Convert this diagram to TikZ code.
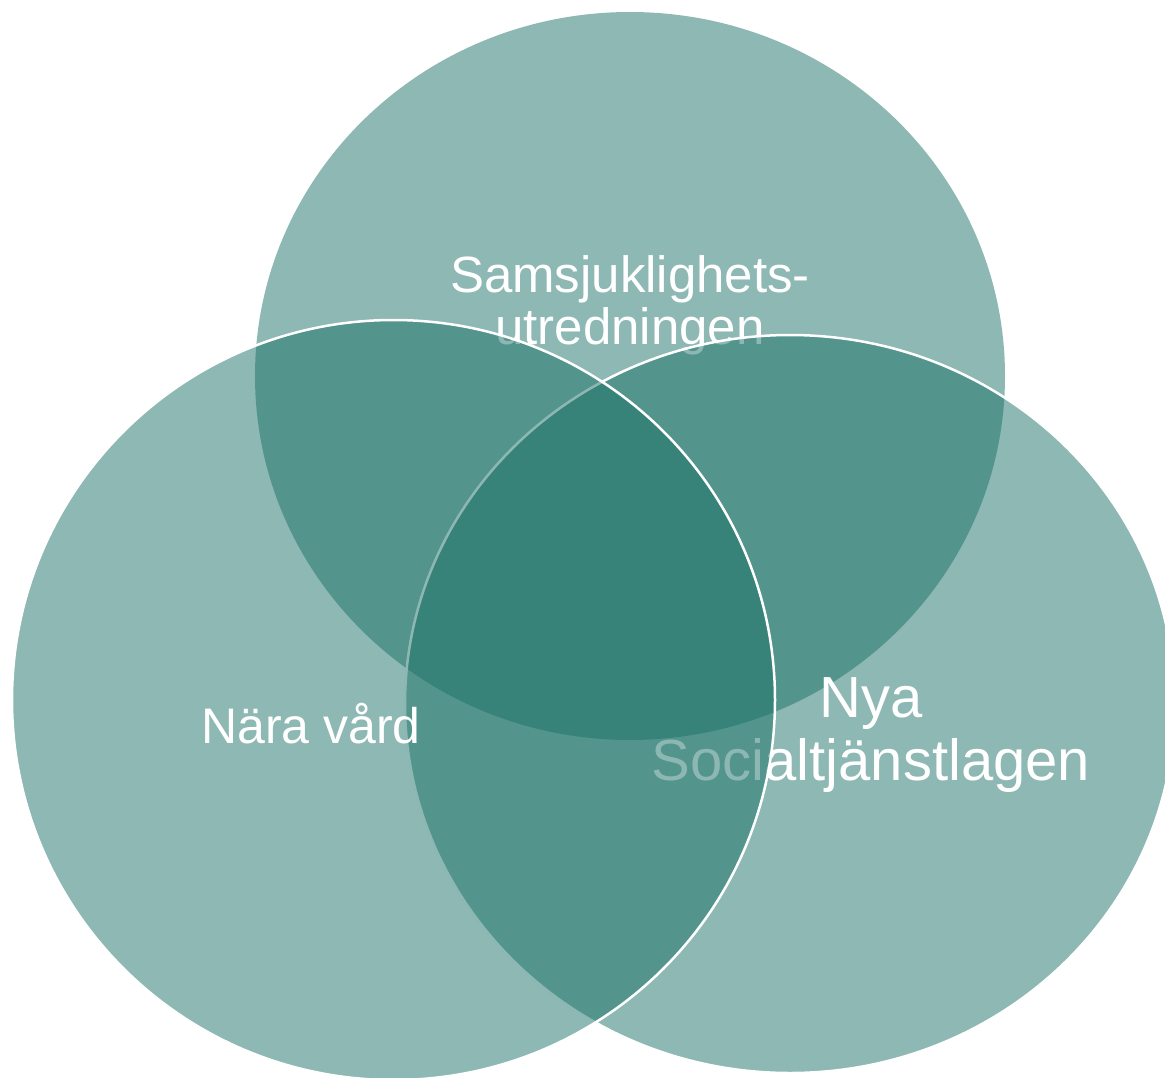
\documentclass[tikz,border=0pt]{standalone}
\usepackage{fontspec}
\setmainfont{Liberation Sans}
\usepackage{xcolor}
\usepackage{tikz}
\definecolor{venngreen}{RGB}{27,113,103}
\tikzset{
  set/.style={fill=venngreen, fill opacity=0.5},
  rim/.style={draw=white, line width=2.5pt},
  label/.style={text=white, align=center, inner sep=0pt}
}

\begin{document}
\begin{tikzpicture}[x=1pt,y=-1pt]
  \useasboundingbox (0,0) rectangle (1165,1077);
  \clip (0,0) rectangle (1165,1077);
  % top set
  \path[set] (630,376) ellipse [x radius=375, y radius=364];
  \node[label, font=\fontsize{51}{52}\selectfont] (S) at (630,305) {Samsjuklighets-\\utredningen};
  % right set
  \path[set, rim] (790,704) ellipse [x radius=385, y radius=369];
  \node[label, font=\fontsize{58}{63}\selectfont] (N) at (871,735) {Nya\\Socialtjänstlagen};
  % left set
  \path[set, rim] (393.5,700) ellipse [x radius=381.5, y radius=380];
  \node[label, anchor=base, font=\fontsize{50}{52}\selectfont] (V) at (311,743) {Nära vård};
\end{tikzpicture}
\end{document}
